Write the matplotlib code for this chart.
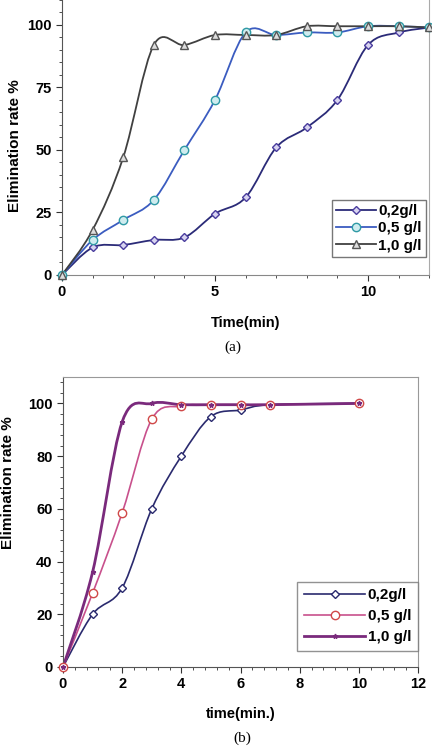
import matplotlib
matplotlib.use("Agg")
import matplotlib.pyplot as plt
from matplotlib.path import Path
from matplotlib.patches import PathPatch
from matplotlib.lines import Line2D
from matplotlib.ticker import MultipleLocator
import numpy as np

plt.rcParams["font.family"] = ["Liberation Sans", "DejaVu Sans"]
plt.rcParams["font.weight"] = "bold"

# panel (a)
time_a = [0, 1, 2, 3, 4, 5, 6, 7, 8, 9, 10, 11, 12]
a_02 = [0, 11, 12, 14, 15, 24.5, 31, 51, 59, 70, 92, 97, 99]
a_05 = [0, 14, 22, 30, 50, 70, 97, 96, 97, 97, 99.5, 99.5, 99]
a_10 = [0, 18, 47, 92, 92, 96, 96, 96, 99.5, 99.5, 99.5, 99.5, 99]

# panel (b)
time_b = [0, 1, 2, 3, 4, 5, 6, 7, 10]
b_02 = [0, 20, 30, 60, 80, 95, 97.5, 99.5, 100]
b_05 = [0, 28, 58.5, 94, 99, 99.5, 99.5, 99.5, 100]
b_10 = [0, 36, 93, 100, 99.5, 99.5, 99.5, 99.5, 100]

labels = ["0,2g/l", "0,5 g/l", "1,0 g/l"]


def smooth_path(x, y):
    # excel-style smoothed line, drawn as cubic bezier segments
    p = np.column_stack([x, y]).astype(float)
    n = len(p)
    verts = [p[0]]
    codes = [Path.MOVETO]
    for i in range(n - 1):
        p0 = p[i - 1] if i > 0 else p[i]
        p3 = p[i + 2] if i + 2 < n else p[i + 1]
        c1 = p[i] + (p[i + 1] - p0) / 6
        c2 = p[i + 1] - (p3 - p[i]) / 6
        verts += [c1, c2, p[i + 1]]
        codes += [Path.CURVE4] * 3
    return Path(verts, codes)


def series(ax, x, y, color, lw, marker, ms, mec, mfc, label):
    ax.add_patch(PathPatch(smooth_path(x, y), facecolor="none",
                           edgecolor=color, lw=lw, zorder=2))
    ax.plot(x, y, ls="none", marker=marker, ms=ms, mec=mec, mfc=mfc,
            mew=1, zorder=3, clip_on=False)
    return Line2D([], [], color=color, lw=lw, marker=marker, ms=ms,
                  mec=mec, mfc=mfc, mew=1, label=label)


fig = plt.figure(figsize=(4.32, 7.46), dpi=100)

# ---- (a)
ax1 = fig.add_axes([0.1435, 0.6314, 0.850, 0.3686])
h1 = [
    series(ax1, time_a, a_02, "#2b2b78", 1.3, "D", 4, "#4a3d9e", "#d8d4f0", labels[0]),
    series(ax1, time_a, a_05, "#3b5cc0", 1.3, "o", 6, "#2f9aa5", "#cfecef", labels[1]),
    series(ax1, time_a, a_10, "#404040", 1.3, "^", 5.5, "#555555", "#dddddd", labels[2]),
]
ax1.set_xlim(0, 12)
ax1.set_ylim(0, 110)
ax1.xaxis.set_major_locator(MultipleLocator(5))
ax1.xaxis.set_minor_locator(MultipleLocator(1))
ax1.yaxis.set_major_locator(MultipleLocator(25))
ax1.yaxis.set_minor_locator(MultipleLocator(5))
ax1.spines["top"].set_visible(False)
ax1.spines["right"].set_color("#aaaaaa")
ax1.spines["left"].set_color("#555555")
ax1.spines["bottom"].set_color("#888888")
ax1.tick_params(which="both", direction="out", labelsize=10.5, colors="#333333",
                labelcolor="black")
ax1.tick_params(which="major", length=4)
ax1.tick_params(which="minor", length=2.5)
ax1.set_ylabel("Elimination rate %", fontsize=11, fontweight="bold")
ax1.yaxis.set_label_coords(-0.109, 0.47)
ax1.set_xlabel("Time(min)", fontsize=10.5, fontweight="bold", labelpad=12)
leg1 = ax1.legend(handles=h1, loc="lower right", bbox_to_anchor=(0.992, 0.065),
                  borderaxespad=0, fontsize=11, frameon=True, fancybox=False,
                  handlelength=2.6, handletextpad=0.15, borderpad=0.3,
                  labelspacing=0.2)
leg1.get_frame().set_edgecolor("#555555")
leg1.get_frame().set_linewidth(1)
fig.text(0.54, 0.535, "(a)", ha="center", va="center", fontsize=11,
         family="Liberation Serif", fontweight="normal")

# ---- (b)
ax2 = fig.add_axes([0.1458, 0.1059, 0.822, 0.3887])
h2 = [
    series(ax2, time_b, b_02, "#2a2a6e", 1.2, "D", 4, "#2a2a6e", "white", labels[0]),
    series(ax2, time_b, b_05, "#c8508c", 1.2, "o", 6, "#d04848", "white", labels[1]),
    series(ax2, time_b, b_10, "#7a2a7c", 2.0, "*", 3.5, "#7a2a7c", "#7a2a7c", labels[2]),
]
ax2.set_xlim(0, 12)
ax2.set_ylim(0, 110)
ax2.xaxis.set_major_locator(MultipleLocator(2))
ax2.xaxis.set_minor_locator(MultipleLocator(0.4))
ax2.yaxis.set_major_locator(MultipleLocator(20))
ax2.yaxis.set_minor_locator(MultipleLocator(4))
for s in ["top", "right"]:
    ax2.spines[s].set_color("#999999")
ax2.spines["left"].set_color("#555555")
ax2.spines["bottom"].set_color("#555555")
ax2.tick_params(which="both", direction="out", labelsize=10.5, colors="#333333",
                labelcolor="black")
ax2.tick_params(which="major", length=4)
ax2.tick_params(which="minor", length=2.5)
ax2.set_ylabel("Elimination rate %", fontsize=11, fontweight="bold")
ax2.yaxis.set_label_coords(-0.135, 0.635)
ax2.set_xlabel("time(min.)", fontsize=10.5, fontweight="bold", labelpad=11)
leg2 = ax2.legend(handles=h2, loc="lower right", bbox_to_anchor=(1.0, 0.055),
                  borderaxespad=0, fontsize=11, frameon=True, fancybox=False,
                  handlelength=4.0, handletextpad=0.15, borderpad=0.45,
                  labelspacing=0.45)
leg2.get_frame().set_edgecolor("#777777")
leg2.get_frame().set_linewidth(1)
fig.text(0.54, 0.010, "(b)", ha="left", va="center", fontsize=11,
         family="Liberation Serif", fontweight="normal")

fig.savefig("out.png", dpi=100)
